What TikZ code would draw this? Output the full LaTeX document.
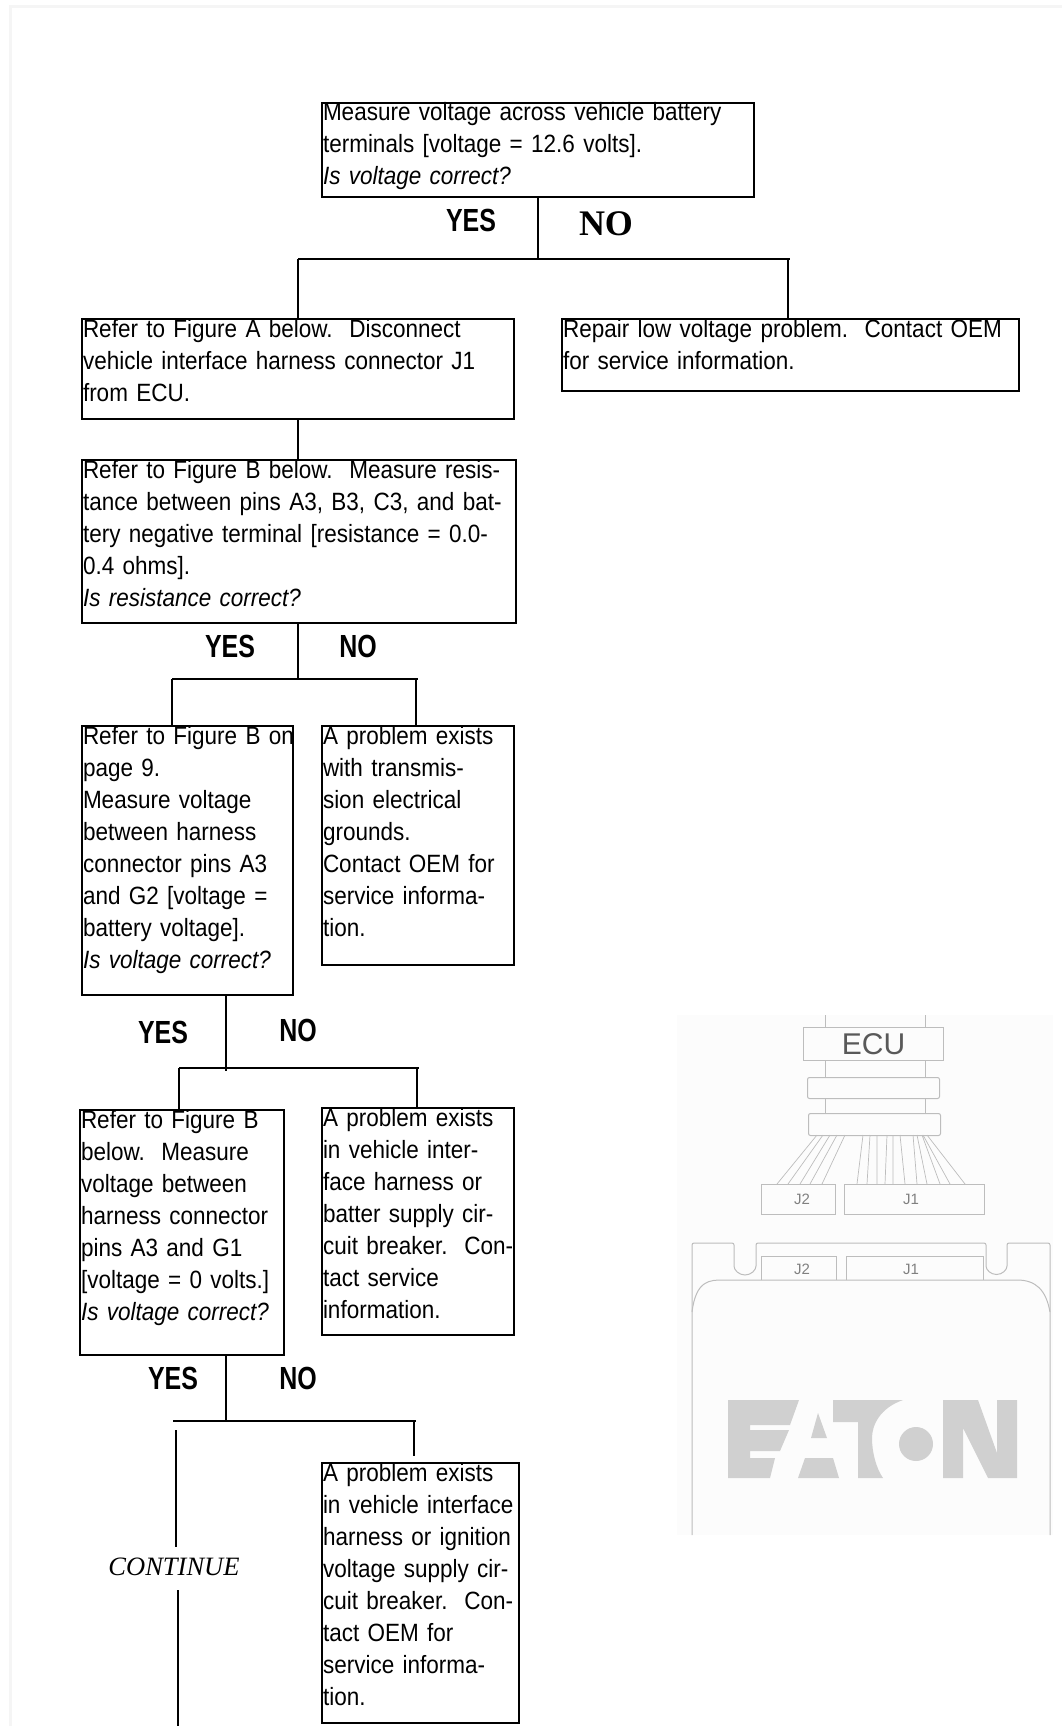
\documentclass[tikz,border=0pt]{standalone}
\usepackage{fontspec}
\setmainfont[FakeStretch=0.9,WordSpace=0.72]{Liberation Sans}
\newfontfamily\yesnofont[FakeStretch=0.78]{Liberation Sans}
\newfontfamily\romanfont{Liberation Serif}
\newfontfamily\figfont{Liberation Sans}
\definecolor{figline}{HTML}{BDBDBD}
\definecolor{figfill}{HTML}{D0D0D0}
\definecolor{figback}{HTML}{FCFCFC}
\definecolor{pageline}{HTML}{F5F5F5}
\tikzset{
 flowbox/.style={draw,line width=1.6pt,anchor=north west,inner xsep=1pt,inner ysep=0pt,outer sep=0pt,align=left,
  text height=18pt,font=\fontsize{25}{32}\selectfont\frenchspacing},
 yesno/.style={font=\yesnofont\bfseries\fontsize{32}{32}\selectfont},
 flowline/.style={line width=1.6pt},
 figbox/.style={draw=figline,line width=1pt,anchor=north west,inner sep=0pt},
 figlabel/.style={text=gray,font=\figfont\fontsize{15}{15}\selectfont},
}

\begin{document}
\begin{tikzpicture}[x=1pt,y=-1pt]
 \useasboundingbox (0,0) rectangle (1062,1726);
 \draw [pageline,line width=3pt] (10.5,1726) -- (10.5,6.5) -- (1062,6.5);
 \fill [figback] (677,1015) rectangle (1053,1535);

 \node [flowbox,text width=430pt,text depth=76pt] (top) at (322,103) {Measure voltage across vehicle battery\\terminals [voltage = 12.6 volts].\\\textit{Is voltage correct?}};
 \node [flowbox,text width=430pt,text depth=82pt] (fa) at (82,319) {Refer to Figure A below.~ Disconnect\\vehicle interface harness connector J1\\from ECU.};
 \node [flowbox,text width=455pt,text depth=54pt] (repair) at (562,319) {Repair low voltage problem.~ Contact OEM\\for service information.};
 \node [flowbox,text width=432pt,text depth=145pt] (fb) at (82,460) {Refer to Figure B below.~ Measure resis-\\tance between pins A3, B3, C3, and bat-\\tery negative terminal [resistance = 0.0-\\0.4 ohms].\\\textit{Is resistance correct?}};
 \node [flowbox,text width=209pt,text depth=251pt] (fc) at (82,726) {\mbox{Refer to Figure B on}\\page 9.\\Measure voltage\\between harness\\connector pins A3\\and G2 [voltage =\\battery voltage].\\\textit{Is voltage correct?}};
 \node [flowbox,text width=190pt,text depth=221pt] (fd) at (322,726) {A problem exists\\with transmis-\\sion electrical\\grounds.\\Contact OEM for\\service informa-\\tion.};
 \node [flowbox,text width=202pt,text depth=227pt] (fe) at (80,1110) {Refer to Figure B\\below.~ Measure\\voltage between\\harness connector\\pins A3 and G1\\{[voltage = 0 volts.]}\\\textit{Is voltage correct?}};
 \node [flowbox,text width=190pt,text depth=209pt] (ff) at (322,1108) {A problem exists\\in vehicle inter-\\face harness or\\batter supply cir-\\\mbox{cuit breaker.~ Con-}\\tact service\\information.};
 \node [flowbox,text width=195pt,text depth=242pt] (fg) at (322,1463) {A problem exists\\in vehicle interface\\harness or ignition\\voltage supply cir-\\\mbox{cuit breaker.~ Con-}\\tact OEM for\\service informa-\\tion.};

 \node [yesno] (yes1) at (471,220) {YES};
 \node [font=\romanfont\bfseries\fontsize{36}{36}\selectfont] (no1) at (606,224) {NO};
 \node [yesno] (yes2) at (230,646) {YES};
 \node [yesno] (no2) at (358,646) {NO};
 \node [yesno] (yes3) at (163,1032) {YES};
 \node [yesno] (no3) at (298,1030) {NO};
 \node [yesno] (yes4) at (173,1378) {YES};
 \node [yesno] (no4) at (298,1378) {NO};
 \node [font=\romanfont\itshape\fontsize{26.5}{26.5}\selectfont] (cont) at (174,1567) {CONTINUE};

 \coordinate (j1) at (538,259);
 \coordinate (j1l) at (298,259);
 \coordinate (j1r) at (790,259);
 \coordinate (j1d) at (788,259);
 \coordinate (j2) at (298,679);
 \coordinate (j2l) at (172,679);
 \coordinate (j2r) at (418,679);
 \coordinate (j2d) at (416,679);
 \coordinate (j3) at (226,1071);
 \coordinate (j3l) at (179,1068);
 \coordinate (j3r) at (419,1068);
 \coordinate (j3d) at (417,1068);
 \coordinate (j4) at (226,1421);
 \coordinate (j4l) at (173,1421);
 \coordinate (j4r) at (416,1421);
 \coordinate (j4d) at (414,1421);
 \coordinate (j4e) at (414,1456);
 \coordinate (c1) at (176,1430);
 \coordinate (c2) at (176,1547);
 \coordinate (c3) at (178,1590);
 \coordinate (c4) at (178,1726);

 \draw [flowline] (top.south -| j1) -- (j1);
 \draw [flowline] (j1l) -- (j1r);
 \draw [flowline] (j1l) -- (fa.north -| j1l);
 \draw [flowline] (j1d) -- (repair.north -| j1d);
 \draw [flowline] (fa.south -| j1l) -- (fb.north -| j1l);
 \draw [flowline] (fb.south -| j2) -- (j2);
 \draw [flowline] (j2l) -- (j2r);
 \draw [flowline] (j2l) -- (fc.north -| j2l);
 \draw [flowline] (j2d) -- (fd.north -| j2d);
 \draw [flowline] (fc.south -| j3) -- (j3);
 \draw [flowline] (j3l) -- (j3r);
 \draw [flowline] (j3l) -- (fe.north -| j3l);
 \draw [flowline] (j3d) -- (ff.north -| j3d);
 \draw [flowline] (fe.south -| j4) -- (j4);
 \draw [flowline] (j4l) -- (j4r);
 \draw [flowline] (j4d) -- (j4e);
 \draw [flowline] (c1) -- (c2);
 \draw [flowline] (c3) -- (c4);

 \node [figbox,minimum width=140pt,minimum height=33pt,text=black!65,font=\figfont\fontsize{30}{30}\selectfont] (ecu) at (803,1027) {ECU};
 \node [figbox,rounded corners=2pt,minimum width=132pt,minimum height=21pt] (plug1) at (807,1077) {};
 \node [figbox,rounded corners=2pt,minimum width=132pt,minimum height=22pt] (plug2) at (808,1113) {};
 \node [figbox,minimum width=74pt,minimum height=30pt] (jtwo) at (761,1184) {};
 \node [figbox,minimum width=140pt,minimum height=30pt] (jone) at (844,1184) {};
 \node [figlabel] (jtwolabel) at (802,1199) {J2};
 \node [figlabel] (jonelabel) at (911,1199) {J1};

 \draw [figline] (825,1015) -- (825,1027) (925,1015) -- (925,1027);
 \draw [figline] (825,1060) -- (825,1077) (925,1060) -- (925,1077);
 \draw [figline] (825,1098) -- (825,1113) (925,1098) -- (925,1113);

 \draw [figline,line width=0.7pt] (817,1135) -- (777,1184) (823,1135) -- (788,1184) (830,1135) -- (800,1184) (837,1135) -- (810,1184) (845,1135) -- (822,1184);
 \draw [figline,line width=0.7pt] (863,1135) -- (857,1184) (870,1135) -- (867,1184) (877,1135) -- (877,1184) (887,1135) -- (885,1184) (893,1135) -- (893,1184) (900,1135) -- (905,1184);
 \draw [figline,line width=0.7pt] (913,1135) -- (917,1184) (917,1135) -- (927,1184) (922,1135) -- (940,1184) (923,1135) -- (950,1184) (927,1135) -- (965,1184);

 \draw [figline,line width=1pt,rounded corners=2pt] (692,1535) -- (692,1243) -- (734,1243) -- (734,1264) arc [start angle=180,end angle=360,radius=11pt] -- (756,1243) -- (986,1243) -- (986,1264) arc [start angle=180,end angle=360,radius=10.5pt] -- (1007,1243) -- (1050,1243) -- (1050,1535);
 \draw [figline,line width=1pt] (692,1312) .. controls (696,1280) and (710,1280) .. (723,1280) -- (1017,1280) .. controls (1036,1280) and (1046,1290) .. (1050,1312);
 \draw [figline,line width=1pt] (761,1280) -- (761,1256) -- (836,1256) -- (836,1280);
 \draw [figline,line width=1pt] (846,1280) -- (846,1256) -- (983,1256) -- (983,1280);
 \node [figlabel] (jtwolow) at (802,1269) {J2};
 \node [figlabel] (jonelow) at (911,1269) {J1};

 \fill [figfill] (728,1400) -- (799,1400) -- (790,1425) -- (750,1425) -- (750,1430) -- (789,1430) -- (780,1451) -- (750,1451) -- (750,1458) -- (775,1458) -- (770,1478) -- (728,1478) -- cycle;
 \fill [figfill] (818,1413) -- (827,1438) -- (811,1438) -- cycle;
 \fill [figfill] (805,1458) -- (833,1458) -- (839,1478) -- (798,1478) -- cycle;
 \fill [figfill] (833,1400) -- (903,1400) .. controls (880,1408) and (872,1425) .. (872,1438) .. controls (872,1452) and (876,1468) .. (883,1478) -- (858,1478) -- (858,1422) -- (833,1422) -- cycle;
 \fill [figfill] (916,1444) circle [radius=17pt];
 \fill [figfill] (943,1400) -- (978,1400) -- (997,1453) -- (997,1400) -- (1017,1400) -- (1017,1478) -- (988,1478) -- (963,1428) -- (963,1478) -- (943,1478) -- cycle;
\end{tikzpicture}
\end{document}
